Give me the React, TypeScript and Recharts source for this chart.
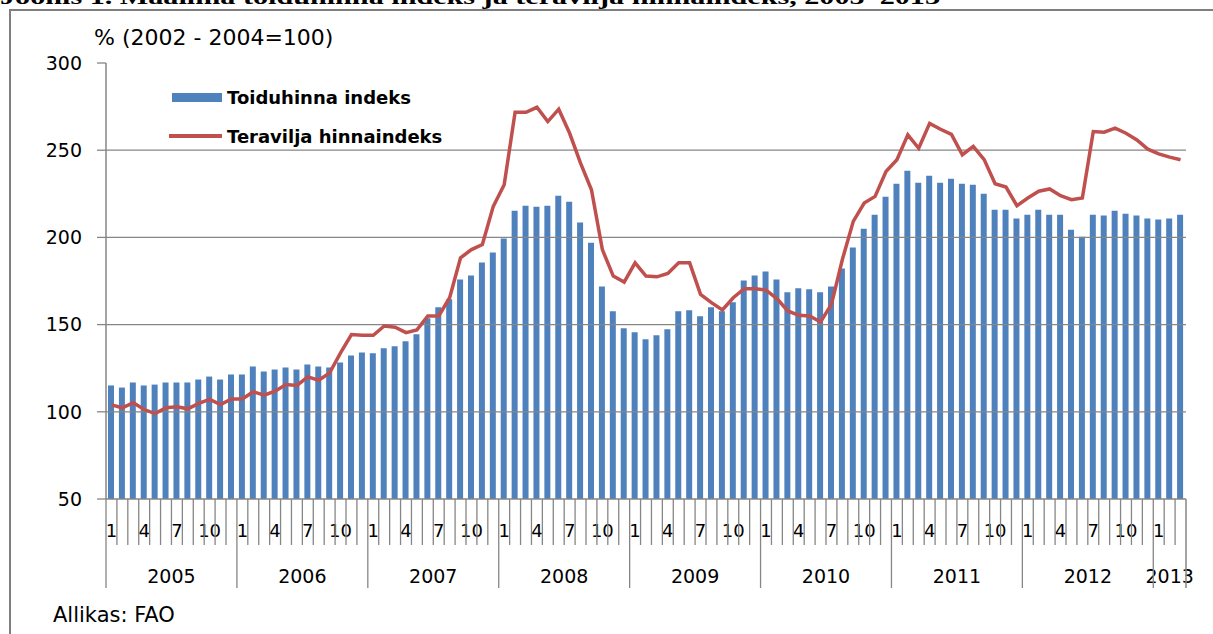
import React from 'react';
import { ComposedChart, Bar, Line, XAxis, YAxis, ReferenceLine } from 'recharts';

// ---- data ----
const years = [2005, 2006, 2007, 2008, 2009, 2010, 2011, 2012, 2013];
const monthsPerYear = [12, 12, 12, 12, 12, 12, 12, 12, 3];
const monthTickLabels = ['1', '4', '7', '10'];
const yTicks = [50, 100, 150, 200, 250, 300];
const gridValues = [100, 150, 200, 250];

const foodIndex = [
  115.1, 113.9, 116.8, 115.1, 115.6, 116.8, 116.8, 116.8, 118.5, 120.2, 118.5, 121.4,
  121.4, 126.0, 123.1, 124.2, 125.4, 124.2, 127.1, 126.0, 125.4, 128.2, 132.3, 134.0,
  133.6, 136.5, 137.6, 140.5, 144.5, 153.6, 159.9, 164.5, 175.9, 178.2, 185.6, 191.3,
  199.3, 215.3, 218.2, 217.6, 218.2, 223.9, 220.5, 208.5, 197.0, 171.9, 157.6, 147.9,
  145.6, 141.6, 143.9, 147.3, 157.6, 158.2, 154.8, 159.9, 157.6, 162.8, 175.3, 178.2,
  180.5, 175.9, 168.5, 170.8, 170.2, 168.5, 171.9, 182.2, 194.2, 205.0, 213.0, 223.3,
  230.8, 238.2, 231.3, 235.3, 231.3, 233.6, 230.8, 230.2, 225.0, 215.9, 215.9, 210.8,
  213.0, 215.9, 213.0, 213.0, 204.4, 200.4, 213.0, 212.5, 215.3, 213.6, 212.5, 210.8,
  210.2, 210.8, 213.0,
];

const grainIndex = [
  104.0, 102.3, 105.2, 101.3, 99.0, 102.3, 102.9, 101.7, 104.8, 107.1, 104.2, 107.4,
  107.4, 111.5, 109.5, 111.8, 115.6, 115.1, 120.0, 118.1, 122.3, 133.8, 144.3, 143.9,
  143.9, 149.2, 148.5, 145.4, 147.0, 155.0, 155.0, 165.4, 188.3, 193.0, 195.9, 217.8,
  230.2, 271.7, 271.7, 274.6, 266.4, 273.5, 259.7, 242.6, 227.3, 193.0, 177.8, 174.4,
  185.4, 177.8, 177.4, 179.3, 185.4, 185.4, 167.3, 162.6, 158.4, 165.4, 170.6, 170.6,
  169.8, 164.9, 157.8, 155.3, 155.0, 151.5, 161.6, 187.3, 209.2, 219.7, 223.5, 237.8,
  244.5, 258.8, 251.1, 265.4, 262.0, 259.1, 247.4, 252.2, 244.6, 230.8, 228.9, 218.2,
  222.6, 226.5, 227.8, 223.9, 221.6, 222.6, 260.7, 260.3, 262.6, 259.7, 255.9, 250.6,
  247.9, 246.0, 244.5,
];

const FOOD_NAME = 'Toiduhinna indeks';
const GRAIN_NAME = 'Teravilja hinnaindeks';

// build table
type Row = { key: string; year: number; month: number; food: number; grain: number };
const data: Row[] = [];
{
  let k = 0;
  years.forEach((y, yi) => {
    for (let m = 1; m <= monthsPerYear[yi]; m++) {
      data.push({ key: `${y}-${m}`, year: y, month: m, food: foodIndex[k], grain: grainIndex[k] });
      k++;
    }
  });
}

// ---- layout ----
const W = 1213;
const H = 634;
const PLOT_LEFT = 106;
const PLOT_RIGHT = 1186;
const PLOT_TOP = 63;
const PLOT_BOTTOM = 499;
const BW = (PLOT_RIGHT - PLOT_LEFT) / data.length;
const GRAY = '#868686';
const FONT = '"DejaVu Sans", sans-serif';

const XTick = (props: any) => {
  const { x, payload } = props;
  const idx: number = payload && typeof payload.index === 'number'
    ? payload.index
    : data.findIndex((d) => d.key === payload.value);
  const row = data[idx];
  if (!row) return null;
  const left = x - BW / 2;
  const right = x + BW / 2;
  const yearStart = row.month === 1;
  const isLast = idx === data.length - 1;
  const yi = years.indexOf(row.year);
  const label = monthTickLabels.includes(String(row.month)) ? String(row.month) : null;
  return (
    <g>
      {label && (
        <text x={x} y={537} textAnchor="middle" fontFamily={FONT} fontSize={18} fill="#000">
          {label}
        </text>
      )}
      {yearStart && (
        <text
          x={left + (monthsPerYear[yi] * BW) / 2}
          y={583}
          textAnchor="middle"
          fontFamily={FONT}
          fontSize={19}
          fill="#000"
        >
          {row.year}
        </text>
      )}
      <line x1={left} x2={left} y1={PLOT_BOTTOM} y2={yearStart ? 588 : 545} stroke={GRAY} strokeWidth={1.3} />
      {isLast && <line x1={right} x2={right} y1={PLOT_BOTTOM} y2={588} stroke={GRAY} strokeWidth={1.5} />}
    </g>
  );
};

const LegendBox = () => (
  <div
    style={{
      position: 'absolute',
      left: 172,
      top: 86,
      fontFamily: FONT,
      fontWeight: 'bold',
      fontSize: 18,
      color: '#000',
      whiteSpace: 'nowrap',
    }}
  >
    <div style={{ display: 'flex', alignItems: 'center', height: 22 }}>
      <div style={{ width: 50, height: 9, background: '#4F81BD', marginRight: 5 }} />
      <span>{FOOD_NAME}</span>
    </div>
    <div style={{ display: 'flex', alignItems: 'center', height: 22, marginTop: 17 }}>
      <div style={{ width: 53, height: 4, background: '#C0504D', marginRight: 5, marginLeft: -3 }} />
      <span>{GRAIN_NAME}</span>
    </div>
  </div>
);

export default function App() {
  return (
    <div style={{ position: 'absolute', left: 0, top: 0, width: W, height: H, background: '#fff', overflow: 'hidden' }}>
      {/* partially visible heading at the very top */}
      <svg width={W} height={10} style={{ position: 'absolute', left: 0, top: 0 }}>
        <text
          x={0}
          y={4}
          fontFamily='"Liberation Serif", serif'
          fontWeight="bold"
          fontSize={22}
          textLength={940}
          lengthAdjust="spacingAndGlyphs"
          fill="#000"
        >
          Joonis 1. Maailma toiduhinna indeks ja teravilja hinnaindeks, 2005–2013
        </text>
      </svg>
      {/* frame */}
      <div style={{ position: 'absolute', left: 9, top: 9, width: W - 9, height: 2, background: '#7f7f7f' }} />
      <div style={{ position: 'absolute', left: 9, top: 9, width: 2, height: H - 9, background: '#7f7f7f' }} />

      <div
        style={{
          position: 'absolute',
          left: 94,
          top: 26,
          fontFamily: FONT,
          fontSize: 22,
          color: '#000',
          whiteSpace: 'nowrap',
          lineHeight: '24px',
        }}
      >
        % (2002 - 2004=100)
      </div>

      <div style={{ position: 'absolute', left: 0, top: 0 }}>
        <ComposedChart
          width={W}
          height={H}
          data={data}
          margin={{ top: PLOT_TOP, right: W - PLOT_RIGHT, bottom: 0, left: 0 }}
          barCategoryGap={0}
        >
          <XAxis
            dataKey="key"
            interval={0}
            tickLine={false}
            axisLine={{ stroke: GRAY, strokeWidth: 1.3 }}
            height={H - PLOT_BOTTOM}
            tick={<XTick />}
          />
          <YAxis
            domain={[50, 300]}
            ticks={yTicks}
            width={PLOT_LEFT}
            allowDataOverflow
            axisLine={{ stroke: GRAY, strokeWidth: 1.5 }}
            tickLine={{ stroke: GRAY, strokeWidth: 1.3 }}
            tickSize={9}
            tickMargin={15}
            tick={{ fill: '#000', fontSize: 19, fontFamily: FONT }}
          />
          {gridValues.map((v) => (
            <ReferenceLine key={v} y={v} stroke={GRAY} strokeWidth={1.3} />
          ))}
          <Bar dataKey="food" name={FOOD_NAME} fill="#4F81BD" barSize={6} isAnimationActive={false} />
          <Line
            dataKey="grain"
            name={GRAIN_NAME}
            type="linear"
            stroke="#C0504D"
            strokeWidth={3.5}
            dot={false}
            activeDot={false}
            isAnimationActive={false}
          />
        </ComposedChart>
      </div>

      <LegendBox />

      <div
        style={{
          position: 'absolute',
          left: 53,
          top: 603,
          fontFamily: FONT,
          fontSize: 21,
          color: '#000',
          whiteSpace: 'nowrap',
          lineHeight: '24px',
        }}
      >
        Allikas: FAO
      </div>
    </div>
  );
}
